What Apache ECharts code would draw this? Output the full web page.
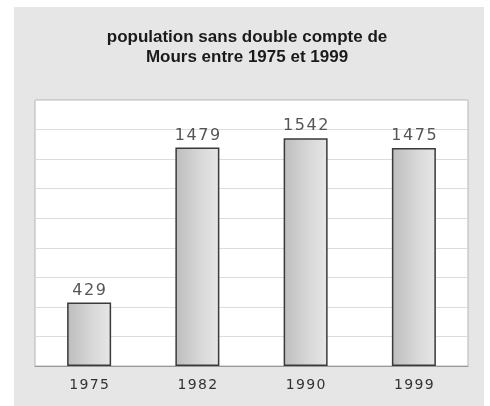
<!DOCTYPE html>
<html>
<head>
    <meta charset="utf-8">
    <title>Population Mours</title>
    <script src="https://cdn.jsdelivr.net/npm/echarts@6/dist/echarts.min.js"></script>
    <style>
        html, body { margin: 0; padding: 0; background: #fff; }
    </style>
</head>
<body>
    <div id="main" style="width: 490px;height:406px;"></div>
    <script type="text/javascript">
    // données
    var annees = ['1975', '1982', '1990', '1999'];
    var population = [429, 1479, 1542, 1475];

    // chiffres un peu espacés comme sur l'original
    function espace(s) {
        return String(s).split('').join('\u200A');
    }

    var myChart = echarts.init(document.getElementById('main'));

    var option = {
        backgroundColor: '#fff',
        animation: false,
        title: {
            text: 'population sans double compte de\nMours entre 1975 et 1999',
            left: 242,
            top: 22,
            textAlign: 'center',
            textStyle: {
                fontFamily: 'Liberation Sans, Arial',
                fontWeight: 'bold',
                fontSize: 17,
                lineHeight: 20,
                color: '#1a1a1a'
            }
        },
        graphic: [{
            type: 'rect',
            z: -10,
            shape: {x: 14, y: 7, width: 470, height: 400},
            style: {fill: '#e6e6e6'}
        }],
        grid: {
            left: 35,
            right: 22,
            top: 100,
            bottom: 40,
            show: true,
            backgroundColor: '#fff',
            borderColor: '#b5b5b5',
            borderWidth: 1
        },
        xAxis: {
            type: 'category',
            data: annees,
            axisLine: {lineStyle: {color: '#999'}},
            axisTick: {show: false},
            axisLabel: {
                color: '#333',
                fontFamily: 'DejaVu Sans',
                fontSize: 14,
                margin: 12,
                formatter: espace
            }
        },
        yAxis: {
            type: 'value',
            min: 0,
            max: 1800,
            interval: 200,
            axisLabel: {show: false},
            axisLine: {show: false},
            axisTick: {show: false},
            splitLine: {lineStyle: {color: '#dcdcdc'}}
        },
        series: [{
            type: 'bar',
            data: population,
            barWidth: 44,
            itemStyle: {
                color: new echarts.graphic.LinearGradient(0, 0, 1, 0, [
                    {offset: 0, color: '#bdbdbd'},
                    {offset: 0.6, color: '#d9d9d9'},
                    {offset: 1, color: '#e6e6e6'}
                ]),
                borderColor: '#3a3a3a',
                borderWidth: 1.5
            },
            label: {
                show: true,
                position: 'top',
                distance: 4,
                color: '#555',
                fontFamily: 'DejaVu Sans',
                fontSize: 16,
                formatter: function (p) { return espace(p.value); }
            }
        }]
    };

    myChart.setOption(option);
    </script>
</body>
</html>
